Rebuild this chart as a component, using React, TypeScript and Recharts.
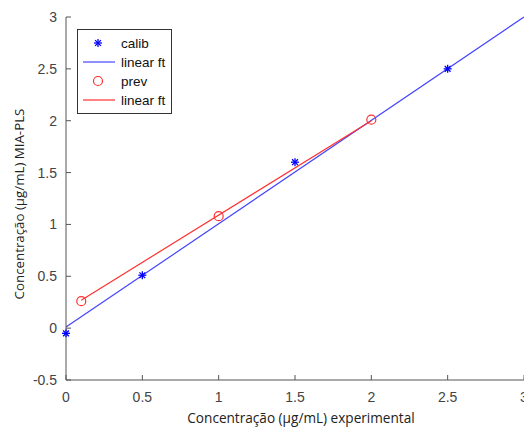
import React from 'react';
import { ComposedChart, XAxis, YAxis, Line, Scatter, Legend, Label } from 'recharts';

const calibX = [0, 0.5, 1.5, 2.5];
const calibY = [-0.05, 0.51, 1.6, 2.5];
const prevX = [0.1, 1, 2];
const prevY = [0.26, 1.08, 2.01];
const fitCalibX = [0, 3];
const fitCalibY = [0.01, 3.0];
const fitPrevX = [0.1, 2];
const fitPrevY = [0.27, 2.0];
const xTicks = [0, 0.5, 1, 1.5, 2, 2.5, 3];
const yTicks = [-0.5, 0, 0.5, 1, 1.5, 2, 2.5, 3];
const xTitle = 'Concentração (µg/mL) experimental';
const yTitle = 'Concentração (µg/mL) MIA-PLS';
const legendLabels = ['calib', 'linear ft', 'prev', 'linear ft'];

const zip = (xs: number[], ys: number[]) => xs.map((x, i) => ({ x, y: ys[i] }));
const calibData = zip(calibX, calibY);
const prevData = zip(prevX, prevY);
const fitCalibData = zip(fitCalibX, fitCalibY);
const fitPrevData = zip(fitPrevX, fitPrevY);

const BLUE = '#0000ff';
const BLUE_LINE = '#4444ff';
const RED = '#ff3030';
const AXIS = '#555';
const TICK_TXT = '#444';
const tickFont = '"Liberation Sans", Arial, sans-serif';
const titleFont = '"Open Sans", sans-serif';

const BottomTick = (p: any) => (
  <g>
    <line x1={p.x} y1={p.y} x2={p.x} y2={p.y - 5} stroke={AXIS} />
    <text x={p.x} y={p.y + 22} textAnchor="middle" fontSize={14} fill={TICK_TXT} fontFamily={tickFont}>
      {String(p.payload.value)}
    </text>
  </g>
);
const TopTick = (p: any) => (
  <line x1={p.x} y1={p.y} x2={p.x} y2={p.y + 5} stroke={AXIS} />
);
const LeftTick = (p: any) => (
  <g>
    <line x1={p.x} y1={p.y} x2={p.x + 5} y2={p.y} stroke={AXIS} />
    <text x={p.x - 9} y={p.y + 5} textAnchor="end" fontSize={14} fill={TICK_TXT} fontFamily={tickFont}>
      {String(p.payload.value)}
    </text>
  </g>
);
const RightTick = (p: any) => (
  <line x1={p.x} y1={p.y} x2={p.x - 5} y2={p.y} stroke={AXIS} />
);

const Asterisk = (p: any) => {
  const { cx, cy } = p;
  const r = 4;
  const d = 2.9;
  return (
    <g stroke={BLUE} strokeWidth={1.3}>
      <line x1={cx - r} y1={cy} x2={cx + r} y2={cy} />
      <line x1={cx} y1={cy - r} x2={cx} y2={cy + r} />
      <line x1={cx - d} y1={cy - d} x2={cx + d} y2={cy + d} />
      <line x1={cx - d} y1={cy + d} x2={cx + d} y2={cy - d} />
    </g>
  );
};
const Ring = (p: any) => (
  <circle cx={p.cx} cy={p.cy} r={4.5} stroke={RED} strokeWidth={1.2} fill="none" />
);

const LegendBox = () => {
  const rows = [14, 33, 52, 71];
  return (
    <div style={{ position: 'relative', width: 95, height: 85, border: '1px solid #333', background: '#fff', boxSizing: 'border-box' }}>
      <svg width={95} height={85} style={{ position: 'absolute', left: -1, top: -1 }}>
        <Asterisk cx={21} cy={rows[0]} />
        <line x1={6} y1={rows[1]} x2={38} y2={rows[1]} stroke={BLUE_LINE} strokeWidth={1.2} />
        <Ring cx={21} cy={rows[2]} />
        <line x1={6} y1={rows[3]} x2={38} y2={rows[3]} stroke={RED} strokeWidth={1.2} />
        {legendLabels.map((t, i) => (
          <text key={i} x={44} y={rows[i] + 4.5} fontSize={13.5} fill="#111" fontFamily={tickFont}>{t}</text>
        ))}
      </svg>
    </div>
  );
};

const YTitle = () => (
  <text x={24} y={204} transform="rotate(-90 24 204)" textAnchor="middle" fontSize={13.3} fill="#222" fontFamily={titleFont}>
    {yTitle}
  </text>
);
const XTitle = () => (
  <text x={301} y={423} textAnchor="middle" fontSize={13.6} fill="#222" fontFamily={titleFont}>
    {xTitle}
  </text>
);

export default function App() {
  return (
    <div style={{ position: 'absolute', left: 0, top: 0, background: '#fff' }}>
      <ComposedChart width={524} height={427} margin={{ top: 17, right: 0, bottom: 0, left: 0 }}>
        <XAxis dataKey="x" type="number" domain={[0, 3]} ticks={xTicks} height={47} tickSize={0} tickMargin={0}
          tickLine={false} axisLine={{ stroke: AXIS }} tick={<BottomTick />} interval={0}>
          <Label content={<XTitle />} />
        </XAxis>
        <XAxis xAxisId="top" orientation="top" dataKey="x" type="number" domain={[0, 3]} ticks={xTicks} height={0}
          tickSize={0} tickMargin={0} tickLine={false} axisLine={{ stroke: AXIS }} tick={<TopTick />} interval={0} />
        <YAxis dataKey="y" type="number" domain={[-0.5, 3]} ticks={yTicks} width={66} tickSize={0} tickMargin={0}
          tickLine={false} axisLine={{ stroke: AXIS }} tick={<LeftTick />} interval={0}>
          <Label content={<YTitle />} />
        </YAxis>
        <YAxis yAxisId="right" orientation="right" dataKey="y" type="number" domain={[-0.5, 3]} ticks={yTicks} width={0}
          tickSize={0} tickMargin={0} tickLine={false} axisLine={{ stroke: AXIS }} tick={<RightTick />} interval={0} />
        <Line data={fitCalibData} dataKey="y" stroke={BLUE_LINE} strokeWidth={1.2} dot={false} isAnimationActive={false} legendType="none" />
        <Scatter data={calibData} dataKey="y" shape={<Asterisk />} isAnimationActive={false} legendType="none" />
        <Line data={fitPrevData} dataKey="y" stroke={RED} strokeWidth={1.2} dot={false} isAnimationActive={false} legendType="none" />
        <Scatter data={prevData} dataKey="y" shape={<Ring />} isAnimationActive={false} legendType="none" />
        <Legend content={<LegendBox />} layout="vertical" align="center" verticalAlign="middle"
          wrapperStyle={{ left: 77, top: 29, width: 95, height: 85 }} />
      </ComposedChart>
    </div>
  );
}
